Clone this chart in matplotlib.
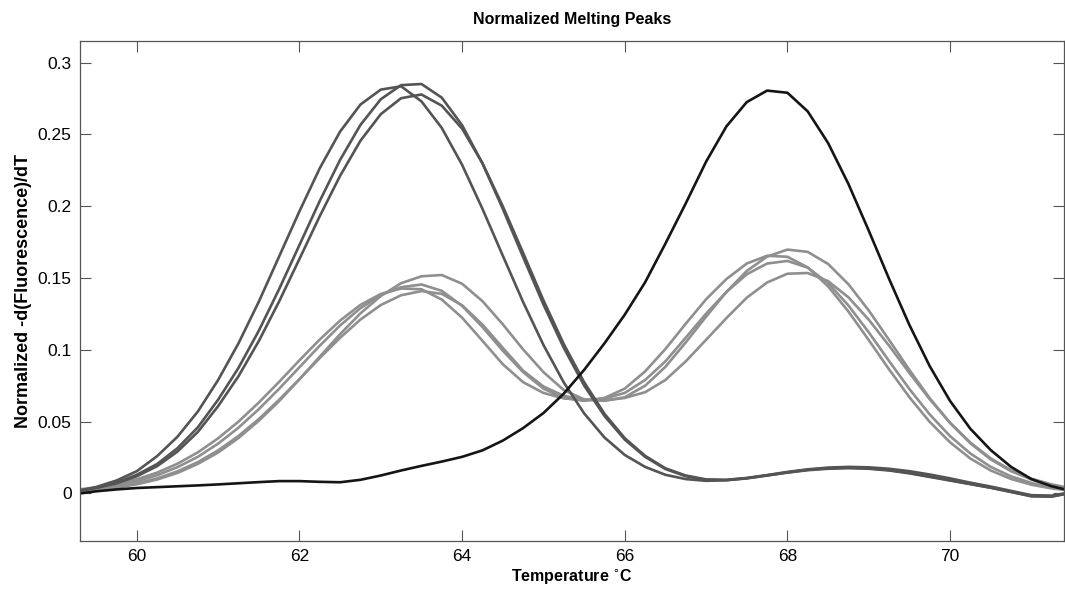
import matplotlib
matplotlib.use("Agg")
import matplotlib.pyplot as plt

plt.rcParams['font.family'] = ['Liberation Sans', 'DejaVu Sans']

# temperature grid (deg C)
temp = [59.3, 59.5, 59.75, 60.0, 60.25, 60.5, 60.75, 61.0, 61.25, 61.5,
        61.75, 62.0, 62.25, 62.5, 62.75, 63.0, 63.25, 63.5, 63.75, 64.0,
        64.25, 64.5, 64.75, 65.0, 65.25, 65.5, 65.75, 66.0, 66.25, 66.5,
        66.75, 67.0, 67.25, 67.5, 67.75, 68.0, 68.25, 68.5, 68.75, 69.0,
        69.25, 69.5, 69.75, 70.0, 70.25, 70.5, 70.75, 71.0, 71.25, 71.4]

# single low-temperature peak (dark grey)
dark_1 = [0.0020, 0.0045, 0.0090, 0.0155, 0.0260, 0.0395, 0.0570, 0.0790, 0.1045, 0.1335,
          0.1650, 0.1965, 0.2265, 0.2520, 0.2708, 0.2812, 0.2835, 0.2730, 0.2545, 0.2288,
          0.1982, 0.1656, 0.1333, 0.1034, 0.0773, 0.0558, 0.0390, 0.0268, 0.0185, 0.0130,
          0.0100, 0.0088, 0.0092, 0.0105, 0.0125, 0.0145, 0.0162, 0.0172, 0.0176, 0.0172,
          0.0160, 0.0140, 0.0115, 0.0090, 0.0065, 0.0040, 0.0010, -0.0020, -0.0020, -0.0005]
dark_2 = [0.0020, 0.0040, 0.0075, 0.0130, 0.0205, 0.0315, 0.0460, 0.0653, 0.0874, 0.1133,
          0.1423, 0.1730, 0.2037, 0.2323, 0.2566, 0.2745, 0.2843, 0.2851, 0.2756, 0.2564,
          0.2298, 0.1982, 0.1646, 0.1316, 0.1014, 0.0752, 0.0540, 0.0375, 0.0255, 0.0170,
          0.0120, 0.0095, 0.0095, 0.0108, 0.0128, 0.0150, 0.0168, 0.0180, 0.0185, 0.0182,
          0.0172, 0.0155, 0.0132, 0.0105, 0.0075, 0.0048, 0.0018, -0.0012, -0.0015, 0.0000]
dark_3 = [0.0020, 0.0038, 0.0070, 0.0120, 0.0190, 0.0292, 0.0428, 0.0608, 0.0816, 0.1061,
          0.1337, 0.1633, 0.1931, 0.2212, 0.2456, 0.2641, 0.2752, 0.2778, 0.2700, 0.2540,
          0.2300, 0.2000, 0.1675, 0.1345, 0.1040, 0.0775, 0.0555, 0.0385, 0.0262, 0.0175,
          0.0125, 0.0098, 0.0093, 0.0106, 0.0126, 0.0147, 0.0165, 0.0176, 0.0180, 0.0176,
          0.0163, 0.0143, 0.0118, 0.0092, 0.0066, 0.0040, 0.0012, -0.0018, -0.0022, -0.0005]

# double peaks (light grey)
grey_1 = [0.0017, 0.0025, 0.0041, 0.0064, 0.0097, 0.0143, 0.0206, 0.0285, 0.0386, 0.0506,
          0.0643, 0.0795, 0.0953, 0.1109, 0.1254, 0.1375, 0.1464, 0.1512, 0.1521, 0.1460,
          0.1339, 0.1178, 0.1003, 0.0845, 0.0720, 0.0655, 0.0645, 0.0670, 0.0750, 0.0882,
          0.1052, 0.1231, 0.1403, 0.1549, 0.1649, 0.1698, 0.1682, 0.1598, 0.1457, 0.1274,
          0.1069, 0.0860, 0.0663, 0.0491, 0.0349, 0.0237, 0.0155, 0.0097, 0.0058, 0.0042]
grey_2 = [0.0024, 0.0035, 0.0056, 0.0085, 0.0127, 0.0183, 0.0255, 0.0347, 0.0458, 0.0587,
          0.0729, 0.0879, 0.1029, 0.1170, 0.1290, 0.1382, 0.1436, 0.1455, 0.1411, 0.1306,
          0.1159, 0.0994, 0.0845, 0.0730, 0.0665, 0.0645, 0.0665, 0.0730, 0.0850, 0.1006,
          0.1182, 0.1352, 0.1493, 0.1601, 0.1655, 0.1648, 0.1574, 0.1442, 0.1267, 0.1068,
          0.0864, 0.0670, 0.0498, 0.0356, 0.0243, 0.0160, 0.0101, 0.0061, 0.0035, 0.0025]
grey_3 = [0.0029, 0.0042, 0.0065, 0.0099, 0.0145, 0.0207, 0.0286, 0.0384, 0.0500, 0.0633,
          0.0777, 0.0927, 0.1072, 0.1204, 0.1313, 0.1389, 0.1427, 0.1422, 0.1350, 0.1224,
          0.1063, 0.0900, 0.0775, 0.0700, 0.0662, 0.0650, 0.0660, 0.0700, 0.0790, 0.0920,
          0.1085, 0.1252, 0.1403, 0.1526, 0.1601, 0.1619, 0.1572, 0.1465, 0.1309, 0.1122,
          0.0922, 0.0727, 0.0550, 0.0399, 0.0278, 0.0185, 0.0119, 0.0073, 0.0043, 0.0031]
grey_4 = [0.0019, 0.0028, 0.0045, 0.0070, 0.0105, 0.0154, 0.0218, 0.0300, 0.0400, 0.0518,
          0.0652, 0.0796, 0.0943, 0.1084, 0.1211, 0.1312, 0.1380, 0.1409, 0.1390, 0.1310,
          0.1176, 0.1014, 0.0855, 0.0745, 0.0680, 0.0652, 0.0648, 0.0665, 0.0705, 0.0790,
          0.0920, 0.1070, 0.1221, 0.1363, 0.1469, 0.1530, 0.1535, 0.1478, 0.1366, 0.1210,
          0.1029, 0.0839, 0.0656, 0.0492, 0.0354, 0.0244, 0.0162, 0.0103, 0.0063, 0.0046]

# single high-temperature peak (black)
black_1 = [0.0000, 0.0015, 0.0028, 0.0038, 0.0044, 0.0050, 0.0056, 0.0063, 0.0071, 0.0079,
           0.0086, 0.0086, 0.0081, 0.0078, 0.0095, 0.0125, 0.0160, 0.0192, 0.0222, 0.0255,
           0.0300, 0.0368, 0.0455, 0.0560, 0.0695, 0.0860, 0.1045, 0.1245, 0.1470, 0.1740,
           0.2020, 0.2310, 0.2556, 0.2725, 0.2805, 0.2790, 0.2660, 0.2440, 0.2155, 0.1830,
           0.1494, 0.1173, 0.0886, 0.0644, 0.0450, 0.0302, 0.0185, 0.0100, 0.0050, 0.0030]

grey_curves = [grey_1, grey_2, grey_3, grey_4]
dark_curves = [dark_1, dark_2, dark_3]

fig = plt.figure(figsize=(10.65, 5.95), dpi=100)
ax = fig.add_axes([0.075, 0.091, 0.924, 0.84])

for y in grey_curves:
    ax.plot(temp, y, color='#8f8f8f', lw=1.9)
for y in dark_curves:
    ax.plot(temp, y, color='#545454', lw=1.9)
ax.plot(temp, black_1, color='#151515', lw=1.9)

ax.set_xlim(59.3, 71.4)
ax.set_ylim(-0.033, 0.315)
ax.set_xticks([60, 62, 64, 66, 68, 70])
ax.set_yticks([0, 0.05, 0.1, 0.15, 0.2, 0.25, 0.3])
ax.set_yticklabels(['0', '0.05', '0.1', '0.15', '0.2', '0.25', '0.3'])
ax.tick_params(direction='in', length=8, width=0.8, color='#555555',
               top=True, right=True, labelsize=12.5, pad=6)
for s in ax.spines.values():
    s.set_color('#555555')
    s.set_linewidth(0.9)

ax.set_title('Normalized Melting Peaks', fontsize=11.5, fontweight='bold', pad=12)
ax.set_xlabel(r'Temperature $^{\circ}$C', fontsize=11.5, fontweight='bold', labelpad=2)
ax.set_ylabel('Normalized -d(Fluorescence)/dT', fontsize=13, fontweight='bold', labelpad=4)

fig.savefig('out.png', dpi=100)
